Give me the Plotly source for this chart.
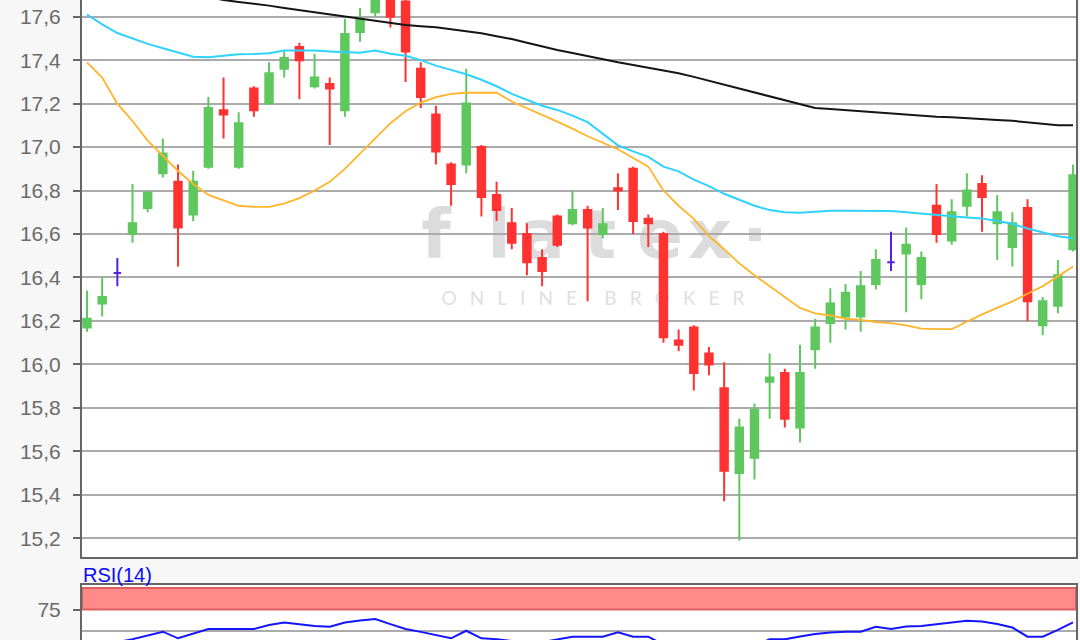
import plotly.graph_objects as go

# ---------------- data ----------------
open_ = [16.17, 16.28, 16.42, 16.60, 16.72, 16.88, 16.84, 16.69, 16.91, 17.17,
         16.91, 17.27, 17.20, 17.36, 17.46, 17.28, 17.29, 17.17, 17.53, 17.62,
         17.73, 17.67, 17.36, 17.15, 16.92, 16.92, 17.00, 16.78, 16.65, 16.60,
         16.49, 16.68, 16.65, 16.71, 16.60, 16.81, 16.90, 16.67, 16.60, 16.11,
         16.17, 16.05, 15.89, 15.50, 15.57, 15.92, 15.96, 15.71, 16.07, 16.19,
         16.22, 16.22, 16.37, 16.47, 16.51, 16.37, 16.73, 16.57, 16.73, 16.83,
         16.65, 16.54, 16.72, 16.18, 16.27, 16.53]
high = [16.34, 16.40, 16.49, 16.83, 16.80, 17.04, 16.92, 16.89, 17.23, 17.32,
        17.16, 17.28, 17.39, 17.44, 17.48, 17.43, 17.32, 17.59, 17.64, 17.75,
        17.77, 17.70, 17.39, 17.19, 16.93, 17.36, 17.01, 16.84, 16.72, 16.65,
        16.53, 16.69, 16.80, 16.73, 16.72, 16.88, 16.91, 16.69, 16.61, 16.16,
        16.18, 16.08, 16.01, 15.75, 15.82, 16.05, 15.98, 16.09, 16.21, 16.35,
        16.37, 16.43, 16.53, 16.61, 16.63, 16.52, 16.83, 16.76, 16.88, 16.87,
        16.78, 16.70, 16.76, 16.31, 16.48, 16.92]
low = [16.15, 16.22, 16.36, 16.56, 16.70, 16.86, 16.45, 16.66, 16.90, 17.04,
       16.90, 17.14, 17.20, 17.32, 17.22, 17.27, 17.01, 17.14, 17.485, 17.60,
       17.55, 17.30, 17.18, 16.92, 16.73, 16.88, 16.68, 16.66, 16.53, 16.41,
       16.36, 16.54, 16.64, 16.29, 16.58, 16.71, 16.60, 16.54, 16.10, 16.06,
       15.88, 15.95, 15.37, 15.19, 15.47, 15.75, 15.71, 15.64, 15.98, 16.10,
       16.16, 16.15, 16.345, 16.43, 16.24, 16.30, 16.56, 16.55, 16.68, 16.61,
       16.48, 16.45, 16.20, 16.135, 16.235, 16.52]
close = [16.21, 16.31, 16.42, 16.65, 16.79, 16.97, 16.63, 16.84, 17.18, 17.15,
         17.11, 17.17, 17.34, 17.41, 17.40, 17.32, 17.27, 17.52, 17.585, 17.72,
         17.60, 17.44, 17.23, 16.98, 16.83, 17.20, 16.77, 16.71, 16.56, 16.47,
         16.43, 16.55, 16.71, 16.63, 16.645, 16.80, 16.66, 16.65, 16.125, 16.09,
         15.96, 16.00, 15.51, 15.71, 15.79, 15.94, 15.75, 15.96, 16.17, 16.28,
         16.33, 16.36, 16.48, 16.47, 16.55, 16.49, 16.60, 16.70, 16.80, 16.77,
         16.70, 16.65, 16.29, 16.29, 16.41, 16.87]

ma_short = [17.39, 17.32, 17.20, 17.12, 17.03, 16.96, 16.89, 16.83, 16.78, 16.755,
            16.73, 16.725, 16.725, 16.74, 16.765, 16.80, 16.84, 16.90, 16.97, 17.04,
            17.11, 17.165, 17.205, 17.23, 17.245, 17.25, 17.25, 17.25, 17.21, 17.18,
            17.15, 17.117, 17.085, 17.05, 17.02, 16.99, 16.95, 16.91, 16.80, 16.73,
            16.67, 16.59, 16.53, 16.465, 16.41, 16.36, 16.31, 16.26, 16.235, 16.225,
            16.21, 16.205, 16.195, 16.19, 16.18, 16.165, 16.162, 16.162, 16.196, 16.23,
            16.26, 16.29, 16.325, 16.36, 16.405, 16.45]
ma_mid = [17.61, 17.565, 17.525, 17.50, 17.475, 17.455, 17.435, 17.416, 17.413, 17.42,
          17.427, 17.428, 17.432, 17.444, 17.444, 17.444, 17.44, 17.436, 17.434, 17.444,
          17.43, 17.42, 17.40, 17.375, 17.355, 17.335, 17.31, 17.28, 17.245, 17.217,
          17.19, 17.171, 17.145, 17.115, 17.06, 17.008, 16.98, 16.955, 16.91, 16.888,
          16.85, 16.82, 16.785, 16.756, 16.73, 16.71, 16.70, 16.698, 16.702, 16.707,
          16.707, 16.707, 16.707, 16.706, 16.70, 16.693, 16.688, 16.682, 16.676, 16.671,
          16.66, 16.647, 16.625, 16.607, 16.59, 16.58]
ma_long = [17.78, 17.77, 17.76, 17.75, 17.74, 17.73, 17.715, 17.70, 17.69, 17.677,
           17.668, 17.66, 17.651, 17.64, 17.63, 17.622, 17.61, 17.60, 17.59, 17.582,
           17.572, 17.562, 17.556, 17.551, 17.542, 17.533, 17.524, 17.51, 17.497, 17.48,
           17.463, 17.447, 17.433, 17.418, 17.403, 17.39, 17.378, 17.366, 17.355, 17.34,
           17.323, 17.305, 17.286, 17.268, 17.25, 17.232, 17.215, 17.197, 17.18, 17.175,
           17.17, 17.166, 17.16, 17.154, 17.148, 17.144, 17.14, 17.137, 17.132, 17.129,
           17.125, 17.121, 17.115, 17.108, 17.10, 17.10]
rsi = [30, 33, 37, 40.5, 44.5, 49.2, 41.5, 47, 52.3, 52.3,
       52.3, 52.3, 57, 59.9, 57.8, 55.8, 55, 59.9, 62.2, 64,
       58, 52.3, 49, 45.3, 41.5, 50.3, 41.5, 40.5, 38, 36,
       37, 40, 43.4, 43.4, 43.4, 48.5, 43.4, 43.4, 34, 33,
       30, 30, 26, 28, 33, 40.3, 40.3, 43.6, 46.5, 48.3,
       49.2, 49.2, 55, 52.3, 55.2, 55.8, 58.1, 59.9, 62, 61,
       58.1, 54, 43.4, 43.4, 51.2, 60.1]

price_ticks = [15.2, 15.4, 15.6, 15.8, 16.0, 16.2, 16.4, 16.6, 16.8, 17.0, 17.2, 17.4, 17.6]
rsi_ticks = [75]
rsi_band = [75, 100]
rsi_mid = 50
rsi_label = "RSI(14)"
wm_letters = ["f", "l", "a", "t", "e", "x", "\u00b7"]
SP = "\u2002\u2009\u200a"
wm_sub = SP.join("ONLINE") + "\u2003" + SP + SP.join("BROKER")

# ---------------- styles ----------------
GREEN = "#5ec75e"
RED = "#ff3232"
DOJI = "#5522dd"
AXIS = "#666666"
GRID = "#ababab"
TICKFONT = dict(family="Liberation Sans, Arial, sans-serif", size=21, color="#6b6b6b")

W, H = 1080, 640
M_L, M_R = 82, 4
MAIN_BOTTOM_PX = 556.7
RSI_TOP_PX = 584.7

idx = list(range(len(close)))
body = [i for i in idx if open_[i] != close[i]]
doji = [i for i in idx if open_[i] == close[i]]

fig = go.Figure()

fig.add_trace(go.Candlestick(
    x=body,
    open=[open_[i] for i in body], high=[high[i] for i in body],
    low=[low[i] for i in body], close=[close[i] for i in body],
    increasing=dict(line=dict(color=GREEN, width=2), fillcolor=GREEN),
    decreasing=dict(line=dict(color=RED, width=2), fillcolor=RED),
    whiskerwidth=0, xaxis="x", yaxis="y", showlegend=False, name="Kurs"))

fig.add_trace(go.Candlestick(
    x=doji,
    open=[open_[i] for i in doji], high=[high[i] for i in doji],
    low=[low[i] for i in doji], close=[close[i] for i in doji],
    increasing=dict(line=dict(color=DOJI, width=2), fillcolor=DOJI),
    decreasing=dict(line=dict(color=DOJI, width=2), fillcolor=DOJI),
    whiskerwidth=0, xaxis="x", yaxis="y", showlegend=False, name="Doji"))

fig.add_trace(go.Scatter(x=idx, y=ma_long, mode="lines",
                         line=dict(color="#151515", width=2), xaxis="x", yaxis="y",
                         showlegend=False, name="GD200"))
fig.add_trace(go.Scatter(x=idx, y=ma_mid, mode="lines",
                         line=dict(color="#2fd2ff", width=2), xaxis="x", yaxis="y",
                         showlegend=False, name="GD38"))
fig.add_trace(go.Scatter(x=idx, y=ma_short, mode="lines",
                         line=dict(color="#ffb42a", width=1.8), xaxis="x", yaxis="y",
                         showlegend=False, name="GD20"))

fig.add_trace(go.Scatter(x=idx, y=rsi, mode="lines",
                         line=dict(color="#1414ff", width=2), xaxis="x2", yaxis="y2",
                         showlegend=False, name="RSI"))

# ---------------- axes ----------------
px_per_candle = 15.17
first_px = 87.0
x0 = -(first_px - M_L) / px_per_candle
x1 = x0 + (W - M_L - M_R) / px_per_candle

px_per_price = 217.3
ref_px, ref_price = 16.7, 17.6
y_top = ref_price + ref_px / px_per_price
y_bot = ref_price - (MAIN_BOTTOM_PX - ref_px) / px_per_price

rsi_px_per = 0.86
rsi_ref_px, rsi_ref = 588.0, 100.0
rsi_top = rsi_ref + (rsi_ref_px - RSI_TOP_PX) / rsi_px_per
rsi_bot = rsi_top - (H - RSI_TOP_PX) / rsi_px_per

main_dom = [1 - MAIN_BOTTOM_PX / H, 1]
rsi_dom = [0, 1 - RSI_TOP_PX / H]

fig.update_layout(
    width=W, height=H,
    margin=dict(l=M_L, r=M_R, t=0, b=0, pad=0),
    paper_bgcolor="#f7f7f7", plot_bgcolor="#ffffff",
    separators=",.",
    boxgap=0.3,
    showlegend=False,
    hovermode=False,
    xaxis=dict(domain=[0, 1], range=[x0, x1], anchor="y",
               showticklabels=False, showgrid=False, zeroline=False, ticks="",
               showline=True, linecolor=AXIS, linewidth=2,
               rangeslider=dict(visible=False)),
    yaxis=dict(domain=main_dom, range=[y_bot, y_top], anchor="x",
               tickvals=price_ticks, tickformat=".1f",
               showgrid=True, gridcolor=GRID, gridwidth=2, zeroline=False,
               ticks="outside", ticklen=7, tickwidth=2, tickcolor=AXIS,
               ticklabelstandoff=8,
               showline=True, mirror=True, linecolor=AXIS, linewidth=2,
               tickfont=TICKFONT),
    xaxis2=dict(domain=[0, 1], range=[x0, x1], anchor="y2", side="top",
                showticklabels=False, showgrid=False, zeroline=False, ticks="",
                showline=True, linecolor=AXIS, linewidth=2,
                rangeslider=dict(visible=False)),
    yaxis2=dict(domain=rsi_dom, range=[rsi_bot, rsi_top], anchor="x2",
                tickvals=rsi_ticks, showgrid=False, zeroline=False,
                ticks="outside", ticklen=7, tickwidth=2, tickcolor=AXIS,
                ticklabelstandoff=8,
                showline=True, mirror=True, linecolor=AXIS, linewidth=2,
                tickfont=TICKFONT),
)

# RSI band and mid line
fig.add_shape(type="rect", xref="x2 domain", yref="y2", x0=0, x1=1,
              y0=rsi_band[0], y1=rsi_band[1], fillcolor="#ff8a8a",
              line=dict(color="#dc6060", width=2), layer="below")
fig.add_shape(type="line", xref="x2 domain", yref="y2", x0=0, x1=1,
              y0=rsi_mid, y1=rsi_mid, line=dict(color=GRID, width=2), layer="below")

fig.add_annotation(text=rsi_label, xref="paper", yref="paper", x=0, xshift=-1,
                   y=1 - 575 / H, xanchor="left", yanchor="middle", showarrow=False,
                   font=dict(family="Liberation Sans, Arial, sans-serif", size=20, color="#0a0aff"))

# ---------------- watermark (behind everything) ----------------
def px2x(px):
    return (px - first_px) / px_per_candle


def py2y(py):
    return ref_price - (py - ref_px) / px_per_price


wm_centers_px = [436, 499, 542, 600, 660, 710, 755]
wm_font = dict(family="DejaVu Sans, sans-serif", size=68, color="#dcdcdc", weight=700)
for ch, cx in zip(wm_letters, wm_centers_px):
    fig.add_shape(type="rect", xref="x", yref="y",
                  x0=px2x(cx - 30), x1=px2x(cx + 30), y0=py2y(258), y1=py2y(200),
                  line=dict(width=0), fillcolor="rgba(0,0,0,0)", layer="below",
                  label=dict(text=ch, font=wm_font, textposition="middle center"))

fig.add_shape(type="rect", xref="x", yref="y",
              x0=px2x(440), x1=px2x(746), y0=py2y(307), y1=py2y(287),
              line=dict(width=0), fillcolor="rgba(0,0,0,0)", layer="below",
              label=dict(text=wm_sub, textposition="middle center",
                         font=dict(family="Lato, Noto Sans, sans-serif", size=19, color="#e0e0e0")))

fig.write_html("out.html", config={"displayModeBar": False},
               post_script="document.body.style.margin='0px';")
